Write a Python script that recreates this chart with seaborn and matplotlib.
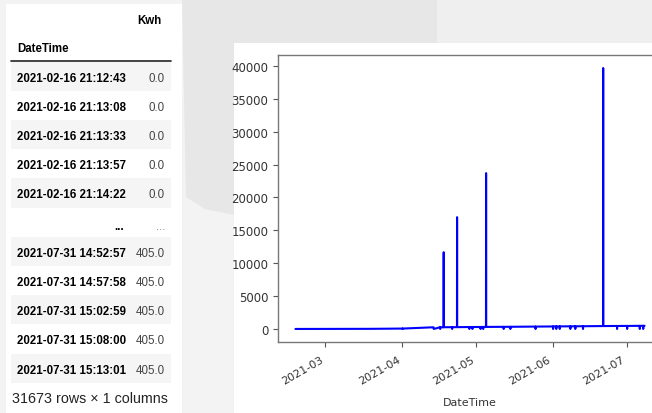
import numpy as np
import pandas as pd
import matplotlib
matplotlib.use('Agg')
import matplotlib.pyplot as plt
import matplotlib.patches as mpatches
import seaborn as sns

# --- table shown on the left (df head / tail) ---
head_dates = ['2021-02-16 21:12:43', '2021-02-16 21:13:08', '2021-02-16 21:13:33',
              '2021-02-16 21:13:57', '2021-02-16 21:14:22']
head_kwh = ['0.0', '0.0', '0.0', '0.0', '0.0']
tail_dates = ['2021-07-31 14:52:57', '2021-07-31 14:57:58', '2021-07-31 15:02:59',
              '2021-07-31 15:08:00', '2021-07-31 15:13:01']
tail_kwh = ['405.0', '405.0', '405.0', '405.0', '405.0']
footer = '31673 rows × 1 columns'

# --- line chart (Kwh over DateTime) ---
timestamps = [
    '2021-02-16 21:12', '2021-03-20 00:00', '2021-04-01 00:00',
    '2021-04-01 06:00', '2021-04-01 07:00', '2021-04-01 08:00',
    '2021-04-13 12:00', '2021-04-13 20:00', '2021-04-13 21:00',
    '2021-04-16 10:00', '2021-04-16 12:00', '2021-04-16 13:00',
    '2021-04-17 21:00', '2021-04-17 22:00', '2021-04-17 23:00',
    '2021-04-21 07:00', '2021-04-21 08:00', '2021-04-21 09:00',
    '2021-04-23 07:00', '2021-04-23 08:00', '2021-04-23 09:00',
    '2021-04-28 06:00', '2021-04-28 07:00', '2021-04-28 08:00',
    '2021-04-29 12:00', '2021-04-29 13:00', '2021-04-29 14:00',
    '2021-05-02 19:00', '2021-05-02 20:00', '2021-05-02 21:00',
    '2021-05-03 21:00', '2021-05-03 22:00', '2021-05-03 23:00',
    '2021-05-05 01:00', '2021-05-05 02:00', '2021-05-05 03:00',
    '2021-05-12 04:00', '2021-05-12 05:00', '2021-05-12 06:00',
    '2021-05-14 21:00', '2021-05-14 22:00', '2021-05-14 23:00',
    '2021-05-25 02:00', '2021-05-25 03:00', '2021-05-25 04:00',
    '2021-06-01 04:00', '2021-06-01 05:00', '2021-06-01 06:00',
    '2021-06-02 11:00', '2021-06-02 12:00', '2021-06-02 13:00',
    '2021-06-03 21:00', '2021-06-03 22:00', '2021-06-03 23:00',
    '2021-06-08 04:00', '2021-06-08 05:00', '2021-06-08 06:00',
    '2021-06-10 04:00', '2021-06-10 05:00', '2021-06-10 06:00',
    '2021-06-13 07:00', '2021-06-13 08:00', '2021-06-13 09:00',
    '2021-06-21 11:00', '2021-06-21 12:00', '2021-06-21 13:00',
    '2021-06-27 02:00', '2021-06-27 03:00', '2021-06-27 04:00',
    '2021-07-01 04:00', '2021-07-01 05:00', '2021-07-01 06:00',
    '2021-07-06 07:00', '2021-07-06 08:00', '2021-07-06 09:00',
    '2021-07-07 16:00', '2021-07-07 17:00', '2021-07-07 18:00',
    '2021-07-08 06:00',
]
kwh = [
    0, 20, 60,
    60, 0, 60,
    250, 250, 0,
    255, 0, 255,
    260, 11670, 260,
    270, 0, 270,
    275, 17000, 275,
    290, 0, 290,
    295, 0, 295,
    300, 0, 300,
    305, 0, 305,
    310, 23700, 310,
    325, 0, 325,
    330, 0, 330,
    360, 0, 360,
    380, 0, 380,
    385, 0, 385,
    390, 0, 390,
    400, 0, 400,
    405, 0, 405,
    415, 0, 415,
    440, 39680, 440,
    455, 0, 455,
    460, 0, 460,
    475, 0, 475,
    478, 0, 478,
    480,
]

df = pd.DataFrame({'DateTime': pd.to_datetime(timestamps), 'Kwh': kwh})

sns.set_style('ticks')
plt.rcParams['font.family'] = ['DejaVu Sans']

W, H = 652, 414
fig = plt.figure(figsize=(W / 100, H / 100), dpi=100, facecolor='#f3f3f3')


def fx(x):
    return x / W


def fy(y):
    return 1 - y / H


def rect(x0, y0, x1, y1, color, z=0):
    fig.add_artist(mpatches.Rectangle((fx(x0), fy(y1)), (x1 - x0) / W, (y1 - y0) / H,
                                      transform=fig.transFigure, color=color, zorder=z, lw=0))


# page background shapes
fig.add_artist(mpatches.Polygon(
    [(fx(182), fy(0)), (fx(437), fy(0)), (fx(437), fy(218)), (fx(234), fy(216)),
     (fx(205), fy(210)), (fx(186), fy(198))],
    closed=True, transform=fig.transFigure, color='#e7e7e7', zorder=0, lw=0))
rect(437, 0, 652, 44, '#efefef')
rect(6, 5, 182, 414, 'white')
rect(234, 44, 652, 414, 'white')

# table
tfont = 'Liberation Sans'
tsize = 8.3
row_h = 29.2
top = 62.6
rows = list(zip(head_dates, head_kwh)) + [('...', '...')] + list(zip(tail_dates, tail_kwh))
for i, (d, v) in enumerate(rows):
    y0 = top + i * row_h
    if i % 2 == 0 and d != '...':
        rect(11, y0, 171, y0 + row_h, '#f5f5f5', z=1)
    base = y0 + row_h / 2 + 4.5
    if d == '...':
        fig.text(fx(124), fy(base + 2), d, ha='right', va='baseline', fontsize=tsize,
                 family=tfont, fontweight='bold', color='black', zorder=2)
        fig.text(fx(165), fy(base + 2), v, ha='right', va='baseline', fontsize=tsize,
                 family=tfont, color='#888888', zorder=2)
    else:
        fig.text(fx(17), fy(base), d, ha='left', va='baseline', fontsize=tsize,
                 family=tfont, fontweight='bold', color='black', zorder=2)
        fig.text(fx(165), fy(base), v, ha='right', va='baseline', fontsize=tsize,
                 family=tfont, color='#444444', zorder=2)

fig.text(fx(162), fy(23.5), 'Kwh', ha='right', va='baseline', fontsize=tsize,
         family=tfont, fontweight='bold', color='black', zorder=2)
fig.text(fx(17), fy(52.5), 'DateTime', ha='left', va='baseline', fontsize=tsize,
         family=tfont, fontweight='bold', color='black', zorder=2)
fig.add_artist(plt.Line2D([fx(11), fx(171)], [fy(62), fy(62)], transform=fig.transFigure,
                          color='#222222', lw=1.2, zorder=2))
fig.text(fx(12), fy(403), footer, ha='left', va='baseline', fontsize=10.3,
         family=tfont, color='#222222', zorder=2)

# chart
ax = fig.add_axes([fx(278), fy(343), (662 - 278) / W, (343 - 56) / H])
ax.set_facecolor('white')
sns.lineplot(data=df, x='DateTime', y='Kwh', ax=ax, color='blue', lw=1.5,
             estimator=None, sort=False)
ax.set_ylabel('')
ax.set_xlabel('DateTime', fontsize=8, color='#333333', labelpad=8)
ax.set_yticks(np.arange(0, 40001, 5000))
for s in ax.spines.values():
    s.set_color('#777777')
    s.set_linewidth(1.0)
ax.tick_params(colors='#555555', labelcolor='#333333', length=3.5, width=0.8)
ax.tick_params(axis='y', labelsize=8.5)
ax.tick_params(axis='x', labelsize=8, pad=5)
for lab in ax.get_xticklabels():
    lab.set_rotation(30)
    lab.set_ha('right')

fig.savefig('out.png', dpi=100, facecolor=fig.get_facecolor())
